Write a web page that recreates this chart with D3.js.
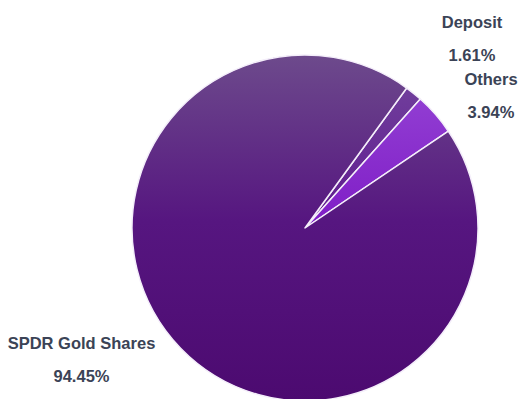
<!DOCTYPE html>
<html>
<head>
<meta charset="utf-8">
<script src="https://cdn.jsdelivr.net/npm/d3@7"></script>
<style>
  html, body { margin: 0; padding: 0; background: #ffffff; }
  svg { display: block; }
  text { font-family: "Liberation Sans", Arial, Helvetica, sans-serif; font-weight: bold; fill: #3b4356; }
</style>
</head>
<body>
<svg id="chart" width="518" height="399"></svg>
<script>
const categories = ["Deposit", "Others", "SPDR Gold Shares"];
const values = [1.61, 3.94, 94.45];
const valueLabels = ["1.61%", "3.94%", "94.45%"];
const colorsTop = ["#74469f", "#9748d6", "#6d4a8c"];
const colorsMid = ["#5f1a8e", "#801ec7", "#561680"];
const colorsBottom = ["#560c84", "#7414bc", "#4c0a70"];
const labelPos = [[472, 28], [491, 85], [81.5, 349]];

const svg = d3.select("#chart");
const cx = 305, cy = 228, r = 173;

const defs = svg.append("defs");
categories.forEach((c, i) => {
  const g = defs.append("linearGradient")
    .attr("id", "grad" + i)
    .attr("gradientUnits", "userSpaceOnUse")
    .attr("x1", 0).attr("y1", -r)
    .attr("x2", 0).attr("y2", r);
  g.append("stop").attr("offset", "0%").attr("stop-color", colorsTop[i]);
  g.append("stop").attr("offset", "48%").attr("stop-color", colorsMid[i]);
  g.append("stop").attr("offset", "100%").attr("stop-color", colorsBottom[i]);
});

const pie = d3.pie().sort(null).value(d => d)
  .startAngle(36 * Math.PI / 180)
  .endAngle(36 * Math.PI / 180 + 2 * Math.PI);
const arc = d3.arc().innerRadius(0).outerRadius(r);
const arcs = pie(values);

const g = svg.append("g").attr("transform", `translate(${cx},${cy})`);
g.selectAll("path").data(arcs).join("path")
  .attr("d", arc)
  .attr("fill", (d, i) => `url(#grad${i})`)
  .attr("stroke", "#f4eefa")
  .attr("stroke-width", 1.5)
  .attr("stroke-linejoin", "round");

const labels = svg.append("g");
categories.forEach((c, i) => {
  labels.append("text")
    .attr("x", labelPos[i][0]).attr("y", labelPos[i][1])
    .attr("text-anchor", "middle")
    .attr("font-size", 16.5)
    .text(c);
  labels.append("text")
    .attr("x", labelPos[i][0]).attr("y", labelPos[i][1] + 33)
    .attr("text-anchor", "middle")
    .attr("font-size", 16.5)
    .text(valueLabels[i]);
});
</script>
</body>
</html>
